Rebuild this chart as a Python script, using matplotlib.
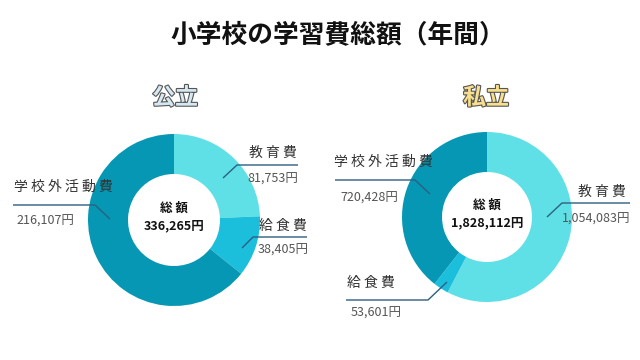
import matplotlib.pyplot as plt
import matplotlib.patheffects as pe

plt.rcParams['font.family'] = ['Noto Sans CJK JP', 'DejaVu Sans']

categories = ['教育費', '給食費', '学校外活動費']
public_vals = [81753, 38405, 216107]
private_vals = [1054083, 53601, 720428]
colors = ['#5fe0e6', '#1bbfdc', '#0597b3']

fig = plt.figure(figsize=(6.4, 3.6), dpi=100)
ax = fig.add_axes([0, 0, 1, 1])

H = 360


def donut(vals, cx, cy, r, w):
    ax.pie(vals, colors=colors, startangle=90, counterclock=False,
           radius=r, center=(cx, H - cy),
           wedgeprops=dict(width=w, edgecolor='none', linewidth=0))
    total = sum(vals)
    ax.text(cx, H - cy + 12, '総 額', ha='center', va='center',
            fontsize=9, fontweight='bold', color='#111')
    ax.text(cx, H - cy - 6, f'{total:,}円', ha='center', va='center',
            fontsize=9, fontweight='bold', color='#111')


def spaced(s):
    return ' '.join(s)


def leader(pts, label, lx, ly, value, vx, vy):
    xs = [p[0] for p in pts]
    ys = [H - p[1] for p in pts]
    ax.plot(xs, ys, color='#2d5f82', lw=1.0, solid_capstyle='butt')
    ax.text(lx, H - ly, spaced(label), ha='left', va='center',
            fontsize=10, color='#333')
    ax.text(vx, H - vy, f'{value:,}円', ha='left', va='center',
            fontsize=9, color='#555')


# 公立
donut(public_vals, 174, 220, 86, 40)
leader([(223, 178), (237, 165), (298, 165)], categories[0], 249, 153,
       public_vals[0], 247, 179)
leader([(242, 248), (253, 237), (307, 237)], categories[1], 259, 226,
       public_vals[1], 258, 250)
leader([(13, 205), (95, 205), (110, 219)], categories[2], 14, 187,
       public_vals[2], 16, 221)

# 私立
donut(private_vals, 487, 217, 85, 40)
leader([(547, 217), (562, 203), (630, 203)], categories[0], 578, 192,
       private_vals[0], 562, 219)
leader([(447, 282), (428, 300), (346, 300)], categories[1], 347, 283,
       private_vals[1], 351, 313)
leader([(335, 180), (415, 180), (430, 194)], categories[2], 334, 162,
       private_vals[2], 340, 198)

ax.text(338, H - 35, '小学校の学習費総額（年間）', ha='center', va='center',
        fontsize=18.5, fontweight='bold', color='#111')

for txt, x, fill in [('公立', 175, '#d6e8f2'), ('私立', 486, '#f7df8c')]:
    ax.text(x, H - 98, txt, ha='center', va='center', fontsize=16.5,
            fontweight='bold', color=fill,
            path_effects=[pe.Stroke(linewidth=1.6, foreground='#555555'),
                          pe.Normal()])

ax.set_xlim(0, 640)
ax.set_ylim(0, 360)
ax.set_aspect('auto')
ax.axis('off')

fig.savefig('out.png', dpi=100)
